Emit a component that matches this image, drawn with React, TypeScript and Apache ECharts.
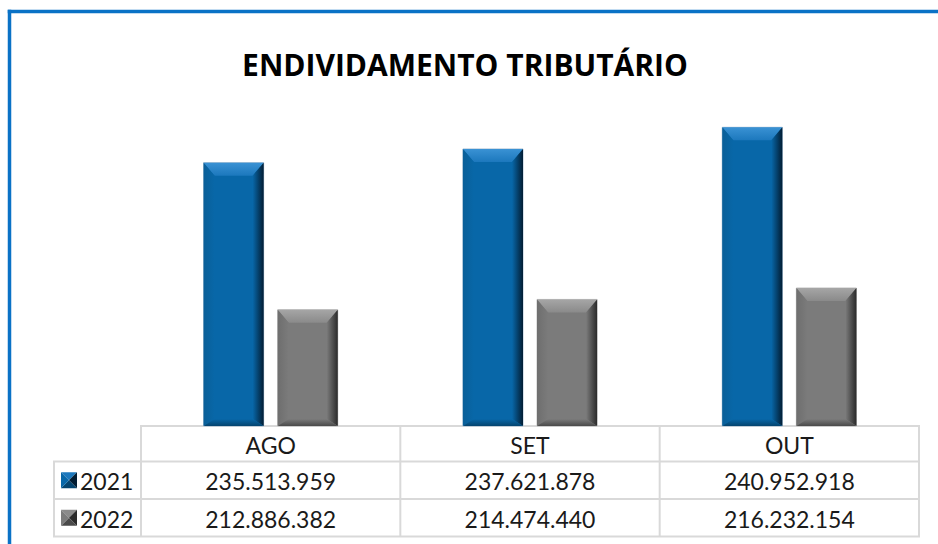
import React, { useEffect, useRef } from "react";
import * as echarts from "echarts";

const TITLE = "ENDIVIDAMENTO TRIBUTÁRIO";
const categories = ["AGO", "SET", "OUT"];
const seriesNames = ["2021", "2022"];
const values2021 = [235513959, 237621878, 240952918];
const values2022 = [212886382, 214474440, 216232154];

const Y_MIN = 195000000;
const Y_MAX = 245000000;

const GRID_LEFT = 141;
const GRID_RIGHT_X = 919;
const GRID_TOP = 101;
const AXIS_Y = 426;
const ROW_Y = [426, 461.5, 499, 536.5];
const LEGEND_LEFT = 54;
const LINE_COLOR = "#d9d9d9";
const FONT = "Lato, 'Open Sans', sans-serif";

const palettes = [
  { main: "#0867a8", top: ["#3a92d4", "#1c78bd"], right: ["#0867a8", "#021d33"], left: ["#0a5f98", "#0867a8"], bottom: ["#0867a8", "#04446f"], stroke: "#a9bfd3" },
  { main: "#7b7b7b", top: ["#a6a6a6", "#8a8a8a"], right: ["#7b7b7b", "#2a2a2a"], left: ["#6e6e6e", "#7b7b7b"], bottom: ["#7b7b7b", "#4a4a4a"], stroke: "#c0c0c0" },
];

function fmt(v: number): string {
  return String(v).replace(/\B(?=(\d{3})+(?!\d))/g, ".");
}

function lg(x0: number, y0: number, x1: number, y1: number, c: string[]) {
  return new echarts.graphic.LinearGradient(x0, y0, x1, y1, [
    { offset: 0, color: c[0] },
    { offset: 1, color: c[1] },
  ]);
}

function makeRenderItem(si: number) {
  const p = palettes[si];
  return (params: any, api: any) => {
    const ci = api.value(0);
    const val = api.value(1);
    const topPt = api.coord([ci, val]);
    const basePt = api.coord([ci, Y_MIN]);
    const band = api.size([1, 0])[0];
    const barW = band * 0.2317;
    const gap = band * 0.054;
    const x0 = si === 0 ? topPt[0] - gap / 2 - barW : topPt[0] + gap / 2;
    const x1 = x0 + barW;
    const y0 = topPt[1];
    const y1 = basePt[1];
    const b = 13;
    const bs = 11;
    const bb = 7;
    return {
      type: "group",
      children: [
        { type: "rect", shape: { x: x0, y: y0, width: barW, height: y1 - y0 }, style: { fill: p.main, stroke: p.stroke, lineWidth: 1 } },
        { type: "polygon", shape: { points: [[x0, y0], [x1, y0], [x1 - bs, y0 + b], [x0 + bs, y0 + b]] }, style: { fill: lg(0, 0, 0, 1, p.top) } },
        { type: "polygon", shape: { points: [[x1, y0], [x1, y1], [x1 - bs, y1 - bb], [x1 - bs, y0 + b]] }, style: { fill: lg(0, 0, 1, 0, p.right) } },
        { type: "polygon", shape: { points: [[x0, y0], [x0 + bs, y0 + b], [x0 + bs, y1 - bb], [x0, y1]] }, style: { fill: lg(0, 0, 1, 0, p.left) } },
        { type: "polygon", shape: { points: [[x0, y1], [x0 + bs, y1 - bb], [x1 - bs, y1 - bb], [x1, y1]] }, style: { fill: lg(0, 0, 0, 1, p.bottom) } },
      ],
    };
  };
}

function legendSquare(x: number, y: number, si: number) {
  const p = palettes[si];
  const s = 16;
  const cx = x + s / 2;
  const cy = y + s / 2;
  return {
    type: "group",
    children: [
      { type: "polygon", shape: { points: [[x, y], [x + s, y], [cx, cy]] }, style: { fill: p.top[1] } },
      { type: "polygon", shape: { points: [[x + s, y], [x + s, y + s], [cx, cy]] }, style: { fill: p.right[1] } },
      { type: "polygon", shape: { points: [[x, y + s], [x + s, y + s], [cx, cy]] }, style: { fill: p.bottom[1] } },
      { type: "polygon", shape: { points: [[x, y], [x, y + s], [cx, cy]] }, style: { fill: p.main } },
    ],
  };
}

export default function App() {
  const ref = useRef<HTMLDivElement>(null);
  useEffect(() => {
    if (!ref.current) return;
    const chart = echarts.init(ref.current, null, { renderer: "svg" });
    const colW = (GRID_RIGHT_X - GRID_LEFT) / categories.length;
    const seriesValues = [values2021, values2022];
    const graphics: any[] = [];

    graphics.push({ type: "rect", shape: { x: 7.75, y: 9.75, width: 930.25, height: 3.5 }, style: { fill: "#0a72c6" }, z: 10 });
    graphics.push({ type: "rect", shape: { x: 7.75, y: 9.75, width: 3.5, height: 534.25 }, style: { fill: "#0a72c6" }, z: 10 });
    graphics.push({
      type: "text",
      x: 465,
      y: 64,
      style: { text: TITLE, fill: "#000", font: "bold 30px 'Open Sans', sans-serif", textAlign: "center", textVerticalAlign: "middle" },
    });

    const hLines: [number, number, number][] = [
      [GRID_LEFT, GRID_RIGHT_X, ROW_Y[0]],
      [LEGEND_LEFT, GRID_RIGHT_X, ROW_Y[1]],
      [LEGEND_LEFT, GRID_RIGHT_X, ROW_Y[2]],
      [LEGEND_LEFT, GRID_RIGHT_X, ROW_Y[3]],
    ];
    hLines.forEach(([a, bx, y]) =>
      graphics.push({ type: "line", shape: { x1: a - 1, y1: y, x2: bx + 1, y2: y }, style: { stroke: LINE_COLOR, lineWidth: 2 } })
    );
    graphics.push({ type: "line", shape: { x1: LEGEND_LEFT, y1: ROW_Y[1], x2: LEGEND_LEFT, y2: ROW_Y[3] }, style: { stroke: LINE_COLOR, lineWidth: 2 } });
    for (let i = 0; i <= categories.length; i++) {
      const x = GRID_LEFT + i * colW;
      graphics.push({ type: "line", shape: { x1: x, y1: ROW_Y[0], x2: x, y2: ROW_Y[3] }, style: { stroke: LINE_COLOR, lineWidth: 2 } });
    }
    categories.forEach((c, i) => {
      const cx = GRID_LEFT + (i + 0.5) * colW;
      graphics.push({ type: "text", x: cx, y: (ROW_Y[0] + ROW_Y[1]) / 2 + 1, style: { text: c, fill: "#1a1a1a", font: `23px ${FONT}`, textAlign: "center", textVerticalAlign: "middle" } });
      seriesValues.forEach((vals, si) => {
        graphics.push({ type: "text", x: cx, y: (ROW_Y[si + 1] + ROW_Y[si + 2]) / 2 + 1, style: { text: fmt(vals[i]), fill: "#1a1a1a", font: `23px ${FONT}`, textAlign: "center", textVerticalAlign: "middle" } });
      });
    });
    seriesNames.forEach((n, si) => {
      const cy = (ROW_Y[si + 1] + ROW_Y[si + 2]) / 2;
      graphics.push(legendSquare(61, cy - 8, si));
      graphics.push({ type: "text", x: 80, y: cy + 1, style: { text: n, fill: "#1a1a1a", font: `23px ${FONT}`, textAlign: "left", textVerticalAlign: "middle" } });
    });

    chart.setOption({
      animation: false,
      backgroundColor: "#ffffff",
      grid: { left: GRID_LEFT, right: 938 - GRID_RIGHT_X, top: GRID_TOP, bottom: 544 - AXIS_Y },
      xAxis: { type: "category", data: categories, axisLine: { show: false }, axisTick: { show: false }, axisLabel: { show: false } },
      yAxis: { type: "value", min: Y_MIN, max: Y_MAX, show: false, splitLine: { show: false } },
      series: seriesValues.map((vals, si) => ({
        type: "custom",
        name: seriesNames[si],
        renderItem: makeRenderItem(si),
        encode: { x: 0, y: 1 },
        data: vals.map((v, i) => [i, v]),
      })),
      graphic: graphics,
    });
    return () => chart.dispose();
  }, []);
  return <div ref={ref} style={{ position: "absolute", left: 0, top: 0, width: 938, height: 544 }} />;
}
